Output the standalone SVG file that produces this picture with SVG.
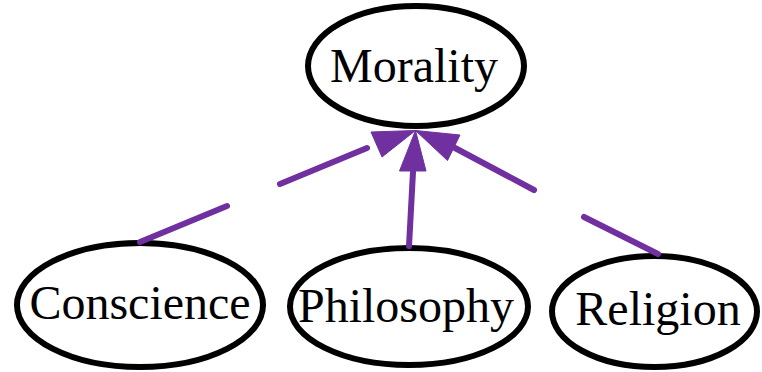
<svg xmlns="http://www.w3.org/2000/svg" width="762" height="372" viewBox="0 0 762 372">
<style>
.node ellipse{fill:#fff;stroke:#000;stroke-width:6}
.node text{font-family:"Liberation Serif","Times New Roman",serif;font-size:48px;text-anchor:middle;fill:#000}
.edge path{fill:none;stroke:#7030a0;stroke-width:6;stroke-linecap:round}
.edge polygon{fill:#7030a0;stroke:#7030a0;stroke-width:1}
</style>
<rect width="762" height="372" fill="#fff"/>
<g id="nodes">
<g id="morality" class="node"><ellipse cx="416" cy="66" rx="108" ry="60"/><text x="414" y="82">Morality</text></g>
<g id="conscience" class="node"><ellipse cx="140" cy="305" rx="123" ry="62"/><text x="140" y="319">Conscience</text></g>
<g id="philosophy" class="node"><ellipse cx="409" cy="306.5" rx="119" ry="58.5"/><text x="406" y="322">Philosophy</text></g>
<g id="religion" class="node"><ellipse cx="654.5" cy="311.5" rx="102.5" ry="55.5"/><text x="658" y="325">Religion</text></g>
</g>
<g id="connectors">
<g class="edge" id="e-conscience"><path d="M140,242 L227,206 M280,184 L367,148"/><polygon points="415.5,130.5 371,132 382,157"/></g>
<g class="edge" id="e-philosophy"><path d="M409,246 L413,172"/><polygon points="415.5,130.5 399.5,171 426,171"/></g>
<g class="edge" id="e-religion"><path d="M658,254 L584,217 M534,190 L455,148"/><polygon points="415.5,130.5 460,135 447.5,160.5"/></g>
</g>
</svg>
